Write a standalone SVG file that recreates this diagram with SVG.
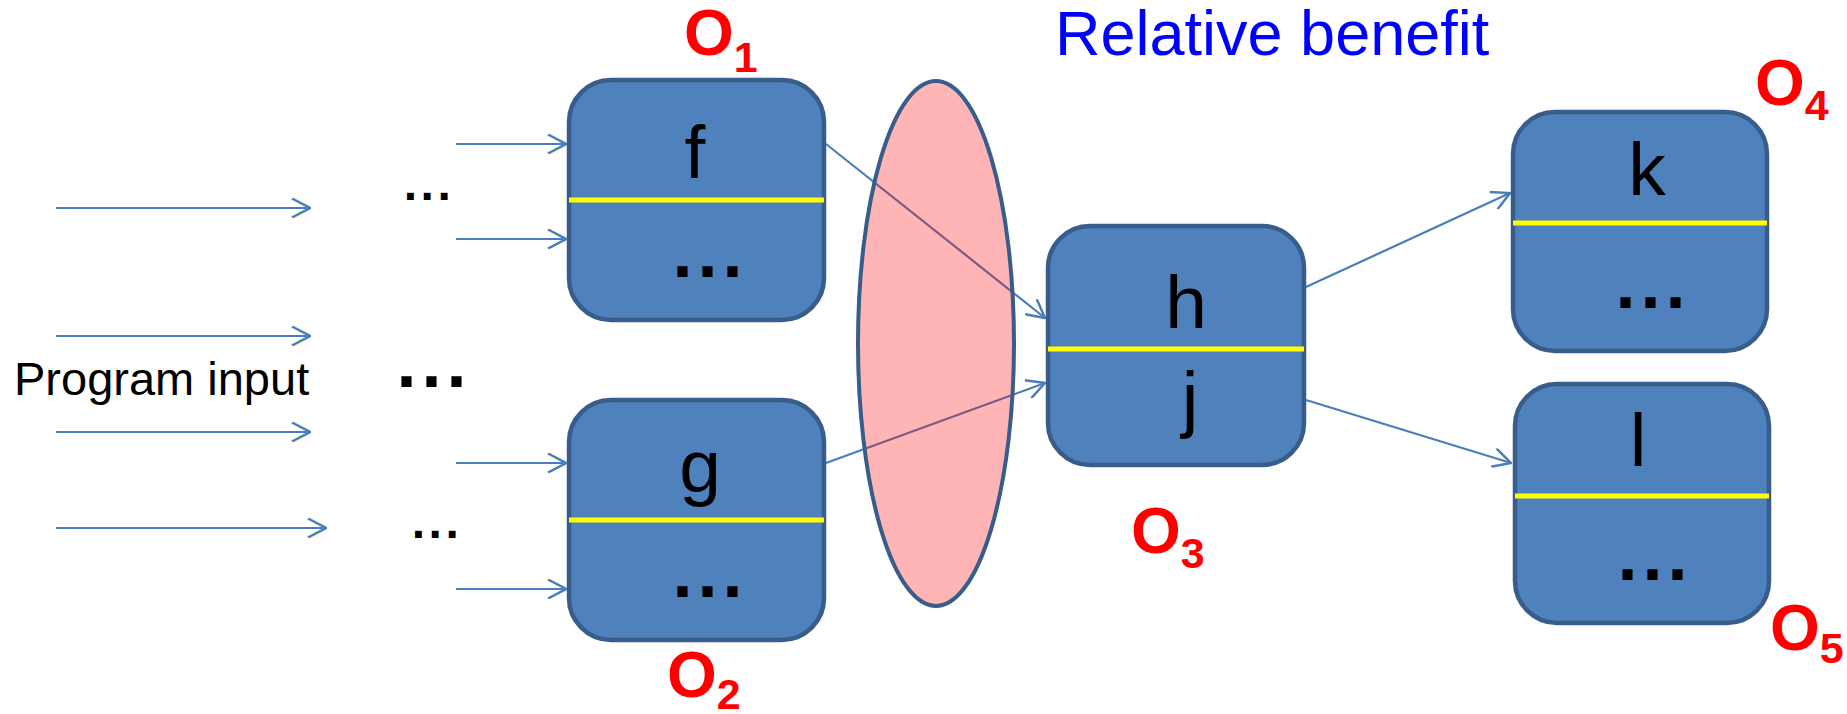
<svg xmlns="http://www.w3.org/2000/svg" width="1847" height="714" viewBox="0 0 1847 714">
<defs>
<marker id="arr" viewBox="0 0 20 20" refX="19" refY="10" markerWidth="20" markerHeight="20" markerUnits="userSpaceOnUse" orient="auto">
<path d="M1,0.5 L19,10 L1,19.5" fill="none" stroke="#4A7EBB" stroke-width="2.5"/>
</marker>
<style>
.box{fill:#4F81BD;stroke:#385D8A;stroke-width:4.5}
.sep{stroke:#FFFF00;stroke-width:5}
.lbl{font-family:"Liberation Sans",Arial,sans-serif;font-size:75px;fill:#000;text-anchor:middle}
.dots{font-family:"Liberation Sans",Arial,sans-serif;font-weight:bold;fill:#000;text-anchor:middle}
.big{font-size:72px;letter-spacing:5px}
.small{font-size:48px;letter-spacing:3.5px}
.o{font-family:"Liberation Sans",Arial,sans-serif;font-weight:bold;font-size:64px;fill:#FF0000}
.sub{font-size:43px}
.ln{stroke:#4A7EBB;stroke-width:2.2;fill:none;marker-end:url(#arr)}
</style>
</defs>
<rect width="1847" height="714" fill="#FFFFFF"/>

<text x="1055" y="55" font-family="Liberation Sans, Arial, sans-serif" font-size="63" fill="#0000FF">Relative benefit</text>
<text x="14" y="395" font-family="Liberation Sans, Arial, sans-serif" font-size="47" fill="#000">Program input</text>
<text class="dots small" x="429" y="200">...</text>
<text class="dots big" x="434" y="387">...</text>
<text class="dots small" x="437" y="538">...</text>

<g id="connectors">
<line class="ln" x1="56" y1="208" x2="310" y2="208"/>
<line class="ln" x1="56" y1="336" x2="310" y2="336"/>
<line class="ln" x1="56" y1="432" x2="310" y2="432"/>
<line class="ln" x1="56" y1="528" x2="326" y2="528"/>
<line class="ln" x1="456" y1="144" x2="566" y2="144"/>
<line class="ln" x1="456" y1="239" x2="566" y2="239"/>
<line class="ln" x1="456" y1="463" x2="566" y2="463"/>
<line class="ln" x1="456" y1="589" x2="566" y2="589"/>
<line class="ln" x1="826" y1="144" x2="1045" y2="318"/>
<line class="ln" x1="826" y1="463" x2="1045" y2="383"/>
<line class="ln" x1="1306" y1="287" x2="1510" y2="193"/>
<line class="ln" x1="1306" y1="400" x2="1511" y2="463"/>
</g>

<g id="ellipse">
<ellipse cx="936" cy="343.5" rx="78" ry="262.5" fill="#FF0000" fill-opacity="0.29" stroke="#385D8A" stroke-width="4"/>
</g>

<g id="node-f">
<rect class="box" x="569" y="80" width="255" height="240" rx="42"/>
<line class="sep" x1="569" y1="200" x2="824" y2="200"/>
<text class="lbl" x="695" y="178">f</text>
<text class="dots big" x="710" y="277">...</text>
</g>
<g id="node-g">
<rect class="box" x="569" y="400" width="255" height="240" rx="42"/>
<line class="sep" x1="569" y1="520" x2="824" y2="520"/>
<text class="lbl" x="700" y="492">g</text>
<text class="dots big" x="710" y="597">...</text>
</g>
<g id="node-h">
<rect class="box" x="1048" y="226" width="256" height="239" rx="42"/>
<line class="sep" x1="1048" y1="349" x2="1304" y2="349"/>
<text class="lbl" x="1186" y="328">h</text>
<text class="lbl" x="1190" y="424">j</text>
</g>
<g id="node-k">
<rect class="box" x="1513" y="112" width="254" height="239" rx="42"/>
<line class="sep" x1="1513" y1="223" x2="1767" y2="223"/>
<text class="lbl" x="1647" y="195">k</text>
<text class="dots big" x="1653" y="308">...</text>
</g>
<g id="node-l">
<rect class="box" x="1515" y="384" width="254" height="239" rx="42"/>
<line class="sep" x1="1515" y1="496" x2="1769" y2="496"/>
<text class="lbl" x="1638" y="466">l</text>
<text class="dots big" x="1655" y="580">...</text>
</g>

<g id="labels-o">
<text class="o" x="684" y="55">O<tspan class="sub" dy="17">1</tspan></text>
<text class="o" x="667" y="697">O<tspan class="sub" dy="12">2</tspan></text>
<text class="o" x="1131" y="553">O<tspan class="sub" dy="15">3</tspan></text>
<text class="o" x="1755" y="105">O<tspan class="sub" dy="15">4</tspan></text>
<text class="o" x="1770" y="650">O<tspan class="sub" dy="13">5</tspan></text>
</g>
</svg>
